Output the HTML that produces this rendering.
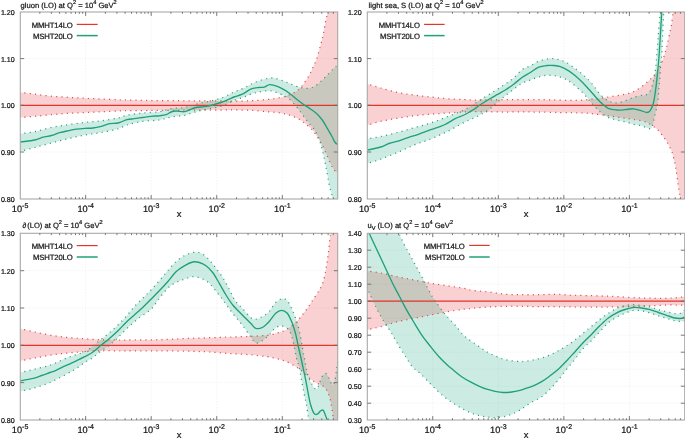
<!DOCTYPE html>
<html><head><meta charset="utf-8"><style>
html,body{margin:0;padding:0;background:#fff;overflow:hidden;}
svg{display:block;will-change:transform;}
text{font-family:"Liberation Sans",sans-serif;fill:#151515;stroke:#151515;stroke-width:0.22px;text-rendering:geometricPrecision;}
</style></head><body>
<svg width="685" height="438" viewBox="0 0 685 438">
<defs><clipPath id="cP1"><rect x="20.3" y="12" width="317.4" height="187"/></clipPath><clipPath id="cP2"><rect x="367.3" y="12" width="317.4" height="187"/></clipPath><clipPath id="cP3"><rect x="20.3" y="233.3" width="317.4" height="186.7"/></clipPath><clipPath id="cP4"><rect x="367.3" y="233.3" width="317.4" height="186.7"/></clipPath></defs>
<g stroke="#eeeeee" stroke-width="0.8" stroke-dasharray="1.2 1.6"><line x1="85.65" y1="12" x2="85.65" y2="199"/><line x1="151.2" y1="12" x2="151.2" y2="199"/><line x1="216.75" y1="12" x2="216.75" y2="199"/><line x1="282.3" y1="12" x2="282.3" y2="199"/><line x1="20.3" y1="152" x2="337.7" y2="152"/><line x1="20.3" y1="105.3" x2="337.7" y2="105.3"/><line x1="20.3" y1="58.6" x2="337.7" y2="58.6"/></g>
<g clip-path="url(#cP1)"><path d="M14,91.8C15.08,91.92 17.05,92.1 20.5,92.5C23.95,92.9 29.57,93.58 34.7,94.2C39.83,94.82 45.75,95.68 51.3,96.2C56.85,96.72 62.43,96.95 68,97.3C73.57,97.65 79.15,98.02 84.7,98.3C90.25,98.58 95.75,98.77 101.3,99C106.85,99.23 113.55,99.53 118,99.7C122.45,99.87 122.67,99.87 128,100C133.33,100.13 142,100.38 150,100.5C158,100.62 167.67,100.63 176,100.7C184.33,100.77 191.67,100.85 200,100.9C208.33,100.95 220.33,100.95 226,101C231.67,101.05 229.88,101.23 234,101.2C238.12,101.17 245.15,101.08 250.7,100.8C256.25,100.52 262.3,100.05 267.3,99.5C272.3,98.95 277.08,98.25 280.7,97.5C284.32,96.75 286.5,95.97 289,95C291.5,94.03 293.75,92.95 295.7,91.7C297.65,90.45 299.03,89.32 300.7,87.5C302.37,85.68 304.18,83.02 305.7,80.8C307.22,78.58 308.62,76.37 309.8,74.2C310.98,72.03 311.63,70.42 312.8,67.8C313.97,65.18 315.48,62.35 316.8,58.5C318.12,54.65 319.63,48.67 320.7,44.7C321.77,40.73 322.43,38.32 323.2,34.7C323.97,31.08 324.62,26.48 325.3,23C325.98,19.52 326.8,16.8 327.3,13.8C327.8,10.8 328.13,6.47 328.3,5L345,0L345,173C343.58,172.78 338.62,172.7 336.5,171.7C334.38,170.7 333.83,169.58 332.3,167C330.77,164.42 328.97,159.82 327.3,156.2C325.63,152.58 323.97,148.5 322.3,145.3C320.63,142.1 318.68,139.22 317.3,137C315.92,134.78 315.1,133.45 314,132C312.9,130.55 312.37,129.88 310.7,128.3C309.03,126.72 306.23,124.17 304,122.5C301.77,120.83 299.8,119.55 297.3,118.3C294.8,117.05 291.77,115.88 289,115C286.23,114.12 284.32,113.55 280.7,113C277.08,112.45 272.3,112.15 267.3,111.7C262.3,111.25 256.25,110.6 250.7,110.3C245.15,110 238.12,109.95 234,109.9C229.88,109.85 231.67,109.97 226,110C220.33,110.03 208.33,110.05 200,110.1C191.67,110.15 184.33,110.23 176,110.3C167.67,110.37 158,110.45 150,110.5C142,110.55 133.33,110.52 128,110.6C122.67,110.68 122.45,110.82 118,111C113.55,111.18 106.85,111.45 101.3,111.7C95.75,111.95 90.25,112.23 84.7,112.5C79.15,112.77 73.57,112.93 68,113.3C62.43,113.67 56.85,114.2 51.3,114.7C45.75,115.2 39.83,115.83 34.7,116.3C29.57,116.77 23.95,117.22 20.5,117.5C17.05,117.78 15.08,117.92 14,118Z" fill="#e41a1c" fill-opacity="0.2"/><path d="M14,134.5C15.08,134.37 17.05,134.17 20.5,133.7C23.95,133.23 29.57,132.73 34.7,131.7C39.83,130.67 45.75,128.67 51.3,127.5C56.85,126.33 62.43,125.53 68,124.7C73.57,123.87 79.15,123.15 84.7,122.5C90.25,121.85 95.75,121.55 101.3,120.8C106.85,120.05 113.72,118.93 118,118C122.28,117.07 122.88,116.03 127,115.2C131.12,114.37 137.32,113.58 142.7,113C148.08,112.42 154.58,112.42 159.3,111.7C164.02,110.98 166.83,109.4 171,108.7C175.17,108 180.13,108.25 184.3,107.5C188.47,106.75 191.83,105.23 196,104.2C200.17,103.17 204.85,102.42 209.3,101.3C213.75,100.18 218.58,99.05 222.7,97.5C226.82,95.95 230.45,93.58 234,92C237.55,90.42 240.38,89.67 244,88C247.62,86.33 251.25,83.67 255.7,82C260.15,80.33 266.53,78.33 270.7,78C274.87,77.67 277.65,79.12 280.7,80C283.75,80.88 286.37,82.25 289,83.3C291.63,84.35 294.55,85.6 296.5,86.3C298.45,87 298.9,87.17 300.7,87.5C302.5,87.83 305.08,88.43 307.3,88.3C309.52,88.17 311.77,87.8 314,86.7C316.23,85.6 318.48,83.65 320.7,81.7C322.92,79.75 325.08,77.23 327.3,75C329.52,72.77 332.27,69.97 334,68.3C335.73,66.63 335.87,66.72 337.7,65C339.53,63.28 343.78,59.17 345,58L345,210L333.5,206C333.3,204.5 333.05,200.72 332.3,197C331.55,193.28 330.1,188.98 329,183.7C327.9,178.42 326.82,170.87 325.7,165.3C324.58,159.73 323.42,154.73 322.3,150.3C321.18,145.87 320.38,142.25 319,138.7C317.62,135.15 315.67,131.57 314,129C312.33,126.43 310.67,125.35 309,123.3C307.33,121.25 305.67,118.92 304,116.7C302.33,114.48 300.67,112.17 299,110C297.33,107.83 295.95,105.78 294,103.7C292.05,101.62 289.52,99.08 287.3,97.5C285.08,95.92 283.47,95.32 280.7,94.2C277.93,93.08 274.32,91.17 270.7,90.8C267.08,90.43 262.33,91.43 259,92C255.67,92.57 253.2,93.37 250.7,94.2C248.2,95.03 246.78,95.95 244,97C241.22,98.05 237.55,99.03 234,100.5C230.45,101.97 226.82,104.43 222.7,105.8C218.58,107.17 213.75,107.72 209.3,108.7C204.85,109.68 200.17,110.6 196,111.7C191.83,112.8 188.47,114.42 184.3,115.3C180.13,116.18 175.17,116.22 171,117C166.83,117.78 164.02,119.28 159.3,120C154.58,120.72 148.08,120.47 142.7,121.3C137.32,122.13 131.12,123.75 127,125C122.88,126.25 122.28,127.55 118,128.8C113.72,130.05 106.85,131.47 101.3,132.5C95.75,133.53 90.25,133.97 84.7,135C79.15,136.03 73.57,137.37 68,138.7C62.43,140.03 56.85,141.53 51.3,143C45.75,144.47 39.83,146.12 34.7,147.5C29.57,148.88 23.95,150.38 20.5,151.3C17.05,152.22 15.08,152.72 14,153Z" fill="#009e73" fill-opacity="0.2"/><line x1="20.3" y1="105.3" x2="337.7" y2="105.3" stroke="#e3352b" stroke-width="1.3"/><path d="M14,91.8C15.08,91.92 17.05,92.1 20.5,92.5C23.95,92.9 29.57,93.58 34.7,94.2C39.83,94.82 45.75,95.68 51.3,96.2C56.85,96.72 62.43,96.95 68,97.3C73.57,97.65 79.15,98.02 84.7,98.3C90.25,98.58 95.75,98.77 101.3,99C106.85,99.23 113.55,99.53 118,99.7C122.45,99.87 122.67,99.87 128,100C133.33,100.13 142,100.38 150,100.5C158,100.62 167.67,100.63 176,100.7C184.33,100.77 191.67,100.85 200,100.9C208.33,100.95 220.33,100.95 226,101C231.67,101.05 229.88,101.23 234,101.2C238.12,101.17 245.15,101.08 250.7,100.8C256.25,100.52 262.3,100.05 267.3,99.5C272.3,98.95 277.08,98.25 280.7,97.5C284.32,96.75 286.5,95.97 289,95C291.5,94.03 293.75,92.95 295.7,91.7C297.65,90.45 299.03,89.32 300.7,87.5C302.37,85.68 304.18,83.02 305.7,80.8C307.22,78.58 308.62,76.37 309.8,74.2C310.98,72.03 311.63,70.42 312.8,67.8C313.97,65.18 315.48,62.35 316.8,58.5C318.12,54.65 319.63,48.67 320.7,44.7C321.77,40.73 322.43,38.32 323.2,34.7C323.97,31.08 324.62,26.48 325.3,23C325.98,19.52 326.8,16.8 327.3,13.8C327.8,10.8 328.13,6.47 328.3,5" fill="none" stroke="#e04848" stroke-width="1.25" stroke-dasharray="1.1 4.2"/><path d="M14,118C15.08,117.92 17.05,117.78 20.5,117.5C23.95,117.22 29.57,116.77 34.7,116.3C39.83,115.83 45.75,115.2 51.3,114.7C56.85,114.2 62.43,113.67 68,113.3C73.57,112.93 79.15,112.77 84.7,112.5C90.25,112.23 95.75,111.95 101.3,111.7C106.85,111.45 113.55,111.18 118,111C122.45,110.82 122.67,110.68 128,110.6C133.33,110.52 142,110.55 150,110.5C158,110.45 167.67,110.37 176,110.3C184.33,110.23 191.67,110.15 200,110.1C208.33,110.05 220.33,110.03 226,110C231.67,109.97 229.88,109.85 234,109.9C238.12,109.95 245.15,110 250.7,110.3C256.25,110.6 262.3,111.25 267.3,111.7C272.3,112.15 277.08,112.45 280.7,113C284.32,113.55 286.23,114.12 289,115C291.77,115.88 294.8,117.05 297.3,118.3C299.8,119.55 301.77,120.83 304,122.5C306.23,124.17 309.03,126.72 310.7,128.3C312.37,129.88 312.9,130.55 314,132C315.1,133.45 315.92,134.78 317.3,137C318.68,139.22 320.63,142.1 322.3,145.3C323.97,148.5 325.63,152.58 327.3,156.2C328.97,159.82 330.77,164.42 332.3,167C333.83,169.58 334.38,170.7 336.5,171.7C338.62,172.7 343.58,172.78 345,173" fill="none" stroke="#e04848" stroke-width="1.25" stroke-dasharray="1.1 4.2"/><path d="M14,134.5C15.08,134.37 17.05,134.17 20.5,133.7C23.95,133.23 29.57,132.73 34.7,131.7C39.83,130.67 45.75,128.67 51.3,127.5C56.85,126.33 62.43,125.53 68,124.7C73.57,123.87 79.15,123.15 84.7,122.5C90.25,121.85 95.75,121.55 101.3,120.8C106.85,120.05 113.72,118.93 118,118C122.28,117.07 122.88,116.03 127,115.2C131.12,114.37 137.32,113.58 142.7,113C148.08,112.42 154.58,112.42 159.3,111.7C164.02,110.98 166.83,109.4 171,108.7C175.17,108 180.13,108.25 184.3,107.5C188.47,106.75 191.83,105.23 196,104.2C200.17,103.17 204.85,102.42 209.3,101.3C213.75,100.18 218.58,99.05 222.7,97.5C226.82,95.95 230.45,93.58 234,92C237.55,90.42 240.38,89.67 244,88C247.62,86.33 251.25,83.67 255.7,82C260.15,80.33 266.53,78.33 270.7,78C274.87,77.67 277.65,79.12 280.7,80C283.75,80.88 286.37,82.25 289,83.3C291.63,84.35 294.55,85.6 296.5,86.3C298.45,87 298.9,87.17 300.7,87.5C302.5,87.83 305.08,88.43 307.3,88.3C309.52,88.17 311.77,87.8 314,86.7C316.23,85.6 318.48,83.65 320.7,81.7C322.92,79.75 325.08,77.23 327.3,75C329.52,72.77 332.27,69.97 334,68.3C335.73,66.63 335.87,66.72 337.7,65C339.53,63.28 343.78,59.17 345,58" fill="none" stroke="#2a9f7c" stroke-width="1.25" stroke-dasharray="1.1 4.2"/><path d="M14,153C15.08,152.72 17.05,152.22 20.5,151.3C23.95,150.38 29.57,148.88 34.7,147.5C39.83,146.12 45.75,144.47 51.3,143C56.85,141.53 62.43,140.03 68,138.7C73.57,137.37 79.15,136.03 84.7,135C90.25,133.97 95.75,133.53 101.3,132.5C106.85,131.47 113.72,130.05 118,128.8C122.28,127.55 122.88,126.25 127,125C131.12,123.75 137.32,122.13 142.7,121.3C148.08,120.47 154.58,120.72 159.3,120C164.02,119.28 166.83,117.78 171,117C175.17,116.22 180.13,116.18 184.3,115.3C188.47,114.42 191.83,112.8 196,111.7C200.17,110.6 204.85,109.68 209.3,108.7C213.75,107.72 218.58,107.17 222.7,105.8C226.82,104.43 230.45,101.97 234,100.5C237.55,99.03 241.22,98.05 244,97C246.78,95.95 248.2,95.03 250.7,94.2C253.2,93.37 255.67,92.57 259,92C262.33,91.43 267.08,90.43 270.7,90.8C274.32,91.17 277.93,93.08 280.7,94.2C283.47,95.32 285.08,95.92 287.3,97.5C289.52,99.08 292.05,101.62 294,103.7C295.95,105.78 297.33,107.83 299,110C300.67,112.17 302.33,114.48 304,116.7C305.67,118.92 307.33,121.25 309,123.3C310.67,125.35 312.33,126.43 314,129C315.67,131.57 317.62,135.15 319,138.7C320.38,142.25 321.18,145.87 322.3,150.3C323.42,154.73 324.58,159.73 325.7,165.3C326.82,170.87 327.9,178.42 329,183.7C330.1,188.98 331.55,193.28 332.3,197C333.05,200.72 333.3,204.5 333.5,206" fill="none" stroke="#2a9f7c" stroke-width="1.25" stroke-dasharray="1.1 4.2"/><path d="M14,143C15.08,142.83 17.05,142.5 20.5,142C23.95,141.5 30.95,140.8 34.7,140C38.45,139.2 40.23,137.95 43,137.2C45.77,136.45 48.52,136.25 51.3,135.5C54.08,134.75 56.92,133.48 59.7,132.7C62.48,131.92 65.23,131.38 68,130.8C70.77,130.22 73.52,129.62 76.3,129.2C79.08,128.78 81.92,128.5 84.7,128.3C87.48,128.1 90.23,128.33 93,128C95.77,127.67 98.52,127.02 101.3,126.3C104.08,125.58 106.92,124.25 109.7,123.7C112.48,123.15 115.12,123.67 118,123C120.88,122.33 124.28,120.42 127,119.7C129.72,118.98 131.68,119.07 134.3,118.7C136.92,118.33 139.92,117.9 142.7,117.5C145.48,117.1 148.23,116.58 151,116.3C153.77,116.02 156.8,116.07 159.3,115.8C161.8,115.53 164.05,115.33 166,114.7C167.95,114.07 169.33,112.62 171,112C172.67,111.38 173.78,111.05 176,111C178.22,110.95 182.08,111.87 184.3,111.7C186.52,111.53 187.35,110.7 189.3,110C191.25,109.3 193.5,108.05 196,107.5C198.5,106.95 201.52,107.12 204.3,106.7C207.08,106.28 209.92,105.7 212.7,105C215.48,104.3 218.23,103.47 221,102.5C223.77,101.53 227.13,100.12 229.3,99.2C231.47,98.28 231.83,97.83 234,97C236.17,96.17 239.52,95.5 242.3,94.2C245.08,92.9 247.92,90.32 250.7,89.2C253.48,88.08 256.78,87.83 259,87.5C261.22,87.17 262.2,87.67 264,87.2C265.8,86.73 267.58,84.85 269.8,84.7C272.02,84.55 274.93,85.47 277.3,86.3C279.67,87.13 281.77,88.38 284,89.7C286.23,91.02 288.48,92.53 290.7,94.2C292.92,95.87 295.08,97.95 297.3,99.7C299.52,101.45 301.77,103.12 304,104.7C306.23,106.28 308.48,107.62 310.7,109.2C312.92,110.78 315.37,112.4 317.3,114.2C319.23,116 320.63,117.65 322.3,120C323.97,122.35 325.63,125.47 327.3,128.3C328.97,131.13 331.05,134.72 332.3,137C333.55,139.28 333.9,140.75 334.8,142C335.7,143.25 336,143.5 337.7,144.5C339.4,145.5 343.78,147.42 345,148" fill="none" stroke="#1fa07a" stroke-width="1.35" stroke-linejoin="round"/></g>
<rect x="20.3" y="12" width="317.4" height="187" fill="none" stroke="#a8a8a8" stroke-width="1.1"/><path d="M39.83,199v-1.8M39.83,12v1.8M51.38,199v-1.8M51.38,12v1.8M59.57,199v-1.8M59.57,12v1.8M65.92,199v-1.8M65.92,12v1.8M71.11,199v-1.8M71.11,12v1.8M75.5,199v-1.8M75.5,12v1.8M79.3,199v-1.8M79.3,12v1.8M82.65,199v-1.8M82.65,12v1.8M85.65,199v-3.9M85.65,12v3.9M105.38,199v-1.8M105.38,12v1.8M116.93,199v-1.8M116.93,12v1.8M125.12,199v-1.8M125.12,12v1.8M131.47,199v-1.8M131.47,12v1.8M136.66,199v-1.8M136.66,12v1.8M141.05,199v-1.8M141.05,12v1.8M144.85,199v-1.8M144.85,12v1.8M148.2,199v-1.8M148.2,12v1.8M151.2,199v-3.9M151.2,12v3.9M170.93,199v-1.8M170.93,12v1.8M182.48,199v-1.8M182.48,12v1.8M190.67,199v-1.8M190.67,12v1.8M197.02,199v-1.8M197.02,12v1.8M202.21,199v-1.8M202.21,12v1.8M206.6,199v-1.8M206.6,12v1.8M210.4,199v-1.8M210.4,12v1.8M213.75,199v-1.8M213.75,12v1.8M216.75,199v-3.9M216.75,12v3.9M236.48,199v-1.8M236.48,12v1.8M248.03,199v-1.8M248.03,12v1.8M256.22,199v-1.8M256.22,12v1.8M262.57,199v-1.8M262.57,12v1.8M267.76,199v-1.8M267.76,12v1.8M272.15,199v-1.8M272.15,12v1.8M275.95,199v-1.8M275.95,12v1.8M279.3,199v-1.8M279.3,12v1.8M282.3,199v-3.9M282.3,12v3.9M302.03,199v-1.8M302.03,12v1.8M313.58,199v-1.8M313.58,12v1.8M321.77,199v-1.8M321.77,12v1.8M328.12,199v-1.8M328.12,12v1.8M333.31,199v-1.8M333.31,12v1.8M20.3,152h3.9M337.7,152h-3.9M20.3,105.3h3.9M337.7,105.3h-3.9M20.3,58.6h3.9M337.7,58.6h-3.9" stroke="#6a6a6a" stroke-width="0.9" fill="none"/>
<g font-size="7.1" text-anchor="end"><text x="14.7" y="201.6">0.80</text><text x="14.7" y="154.9">0.90</text><text x="14.7" y="108.2">1.00</text><text x="14.7" y="61.5">1.10</text><text x="14.7" y="14.8">1.20</text></g>
<g font-size="9.2" text-anchor="middle"><text x="20.1" y="212">10<tspan font-size="7" dy="-3.6">-5</tspan></text><text x="85.65" y="212">10<tspan font-size="7" dy="-3.6">-4</tspan></text><text x="151.2" y="212">10<tspan font-size="7" dy="-3.6">-3</tspan></text><text x="216.75" y="212">10<tspan font-size="7" dy="-3.6">-2</tspan></text><text x="282.3" y="212">10<tspan font-size="7" dy="-3.6">-1</tspan></text></g>
<text x="179" y="216.9" font-size="9.4" text-anchor="middle">x</text>
<g font-size="7.7" letter-spacing="-0.1" text-anchor="end"><text x="72.7" y="27.5">MMHT14LO</text><text x="72.7" y="38.7">MSHT20LO</text></g><line x1="76.7" y1="24.4" x2="97.7" y2="24.4" stroke="#e3352b" stroke-width="1.2"/><line x1="76.7" y1="35.6" x2="97.7" y2="35.6" stroke="#1fa07a" stroke-width="1.5"/>
<text x="20.6" y="8.1" font-size="7.6">gluon (LO) at Q<tspan font-size="5.6" dy="-3.7">2</tspan><tspan dy="3.7"> = 10</tspan><tspan font-size="5.6" dy="-3.7">4</tspan><tspan dy="3.7"> GeV</tspan><tspan font-size="5.6" dy="-3.7">2</tspan></text>
<g stroke="#eeeeee" stroke-width="0.8" stroke-dasharray="1.2 1.6"><line x1="432.75" y1="12" x2="432.75" y2="199"/><line x1="498.3" y1="12" x2="498.3" y2="199"/><line x1="563.85" y1="12" x2="563.85" y2="199"/><line x1="629.4" y1="12" x2="629.4" y2="199"/><line x1="367.3" y1="152" x2="684.7" y2="152"/><line x1="367.3" y1="105.3" x2="684.7" y2="105.3"/><line x1="367.3" y1="58.6" x2="684.7" y2="58.6"/></g>
<g clip-path="url(#cP2)"><path d="M360,83C361.28,83.2 364.25,83.37 367.7,84.2C371.15,85.03 375.77,86.62 380.7,88C385.63,89.38 391.75,91.33 397.3,92.5C402.85,93.67 408.43,94.25 414,95C419.57,95.75 425.15,96.38 430.7,97C436.25,97.62 441.75,98.28 447.3,98.7C452.85,99.12 459.55,99.28 464,99.5C468.45,99.72 469.67,99.95 474,100C478.33,100.05 484,99.85 490,99.8C496,99.75 503.33,99.72 510,99.7C516.67,99.68 523.33,99.68 530,99.7C536.67,99.72 542.5,99.67 550,99.8C557.5,99.93 568.05,100.6 575,100.5C581.95,100.4 586.15,99.78 591.7,99.2C597.25,98.62 602.75,97.83 608.3,97C613.85,96.17 620.83,95.08 625,94.2C629.17,93.32 630.52,92.95 633.3,91.7C636.08,90.45 639.2,88.48 641.7,86.7C644.2,84.92 646.52,82.55 648.3,81C650.08,79.45 651.18,78.7 652.4,77.4C653.62,76.1 654.62,74.55 655.6,73.2C656.58,71.85 657.35,70.92 658.3,69.3C659.25,67.68 660.27,65.93 661.3,63.5C662.33,61.07 663.52,57.83 664.5,54.7C665.48,51.57 666.32,48.32 667.2,44.7C668.08,41.08 669.1,36.33 669.8,33C670.5,29.67 670.87,28.03 671.4,24.7C671.93,21.37 672.6,16.28 673,13C673.4,9.72 673.67,6.33 673.8,5L690,0L690,210L680.5,206C680.42,204.5 680.22,199.47 680,197C679.78,194.53 679.48,193 679.2,191.2C678.92,189.4 678.58,188.02 678.3,186.2C678.02,184.38 677.83,182.8 677.5,180.3C677.17,177.8 676.67,173.7 676.3,171.2C675.93,168.7 675.65,167.12 675.3,165.3C674.95,163.48 674.58,161.97 674.2,160.3C673.82,158.63 673.48,156.97 673,155.3C672.52,153.63 672,151.97 671.3,150.3C670.6,148.63 669.63,146.88 668.8,145.3C667.97,143.72 667.27,142.32 666.3,140.8C665.33,139.28 664.1,137.67 663,136.2C661.9,134.73 660.9,133.32 659.7,132C658.5,130.68 657.42,129.6 655.8,128.3C654.18,127 652.35,125.45 650,124.2C647.65,122.95 645.87,121.78 641.7,120.8C637.53,119.82 630.57,119.13 625,118.3C619.43,117.47 613.85,116.57 608.3,115.8C602.75,115.03 596.08,114.17 591.7,113.7C587.32,113.23 587.28,113.2 582,113C576.72,112.8 568.67,112.67 560,112.5C551.33,112.33 540,112.08 530,112C520,111.92 509.33,112.05 500,112C490.67,111.95 480,111.7 474,111.7C468,111.7 468.45,111.78 464,112C459.55,112.22 452.85,112.63 447.3,113C441.75,113.37 436.25,113.73 430.7,114.2C425.15,114.67 419.57,115.12 414,115.8C408.43,116.48 402.85,117.38 397.3,118.3C391.75,119.22 385.63,120.18 380.7,121.3C375.77,122.42 371.15,124.22 367.7,125C364.25,125.78 361.28,125.83 360,126Z" fill="#e41a1c" fill-opacity="0.2"/><path d="M360,140C361.28,139.8 364.25,139.38 367.7,138.8C371.15,138.22 375.77,137.55 380.7,136.5C385.63,135.45 391.75,133.95 397.3,132.5C402.85,131.05 408.43,129.38 414,127.8C419.57,126.22 425.15,124.85 430.7,123C436.25,121.15 441.75,118.87 447.3,116.7C452.85,114.53 459.72,112.03 464,110C468.28,107.97 470.28,106.17 473,104.5C475.72,102.83 477.68,101.63 480.3,100C482.92,98.37 485.92,96.45 488.7,94.7C491.48,92.95 494.23,91.28 497,89.5C499.77,87.72 502.52,85.92 505.3,84C508.08,82.08 510.92,80.38 513.7,78C516.48,75.62 519.23,71.73 522,69.7C524.77,67.67 527.52,67.2 530.3,65.8C533.08,64.4 535.63,62.48 538.7,61.3C541.77,60.12 545.65,59.05 548.7,58.7C551.75,58.35 554.23,58.65 557,59.2C559.77,59.75 562.52,60.62 565.3,62C568.08,63.38 570.7,65.33 573.7,67.5C576.7,69.67 580.3,72.37 583.3,75C586.3,77.63 588.92,80.1 591.7,83.3C594.48,86.5 597.23,91.28 600,94.2C602.77,97.12 605.52,99.33 608.3,100.8C611.08,102.27 613.92,103 616.7,103C619.48,103 622.23,101.72 625,100.8C627.77,99.88 630.52,98.42 633.3,97.5C636.08,96.58 639.75,95.68 641.7,95.3C643.65,94.92 643.83,95.57 645,95.2C646.17,94.83 647.62,94.25 648.7,93.1C649.78,91.95 650.82,89.93 651.5,88.3C652.18,86.67 652.35,85.05 652.8,83.3C653.25,81.55 653.78,79.85 654.2,77.8C654.62,75.75 654.97,73.58 655.3,71C655.63,68.42 655.88,65.8 656.2,62.3C656.52,58.8 656.87,54.38 657.2,50C657.53,45.62 657.83,40.78 658.2,36C658.57,31.22 659.08,25.3 659.4,21.3C659.72,17.3 659.92,14.72 660.1,12C660.28,9.28 660.43,6.17 660.5,5L664,5C663.95,6.17 663.8,9.83 663.7,12C663.6,14.17 663.6,13.67 663.4,18C663.2,22.33 662.82,31.33 662.5,38C662.18,44.67 661.82,53.17 661.5,58C661.18,62.83 660.9,63.33 660.6,67C660.3,70.67 660,76.17 659.7,80C659.4,83.83 659.12,86.38 658.8,90C658.48,93.62 658.43,97.53 657.8,101.7C657.17,105.87 656.02,110.7 655,115C653.98,119.3 652.82,125.28 651.7,127.5C650.58,129.72 649.97,128.58 648.3,128.3C646.63,128.02 644.2,126.48 641.7,125.8C639.2,125.12 636.08,124.88 633.3,124.2C630.52,123.52 627.77,122.4 625,121.7C622.23,121 619.48,120.7 616.7,120C613.92,119.3 611.08,118.88 608.3,117.5C605.52,116.12 602.77,114.07 600,111.7C597.23,109.33 594.48,106.37 591.7,103.3C588.92,100.23 586.58,96.63 583.3,93.3C580.02,89.97 575.27,85.8 572,83.3C568.73,80.8 566.48,79.55 563.7,78.3C560.92,77.05 558.08,76.3 555.3,75.8C552.52,75.3 549.77,75.1 547,75.3C544.23,75.5 541.48,76.22 538.7,77C535.92,77.78 533.08,78.95 530.3,80C527.52,81.05 524.77,81.77 522,83.3C519.23,84.83 516.48,87.12 513.7,89.2C510.92,91.28 508.08,93.58 505.3,95.8C502.52,98.02 499.77,100.17 497,102.5C494.23,104.83 491.48,107.75 488.7,109.8C485.92,111.85 483.08,113.3 480.3,114.8C477.52,116.3 474.72,117.52 472,118.8C469.28,120.08 468.12,120.38 464,122.5C459.88,124.62 452.85,128.75 447.3,131.5C441.75,134.25 436.25,136.75 430.7,139C425.15,141.25 419.57,142.75 414,145C408.43,147.25 402.85,150.13 397.3,152.5C391.75,154.87 385.63,157.4 380.7,159.2C375.77,161 371.15,162.25 367.7,163.3C364.25,164.35 361.28,165.13 360,165.5Z" fill="#009e73" fill-opacity="0.2"/><line x1="367.3" y1="105.3" x2="684.7" y2="105.3" stroke="#e3352b" stroke-width="1.3"/><path d="M360,83C361.28,83.2 364.25,83.37 367.7,84.2C371.15,85.03 375.77,86.62 380.7,88C385.63,89.38 391.75,91.33 397.3,92.5C402.85,93.67 408.43,94.25 414,95C419.57,95.75 425.15,96.38 430.7,97C436.25,97.62 441.75,98.28 447.3,98.7C452.85,99.12 459.55,99.28 464,99.5C468.45,99.72 469.67,99.95 474,100C478.33,100.05 484,99.85 490,99.8C496,99.75 503.33,99.72 510,99.7C516.67,99.68 523.33,99.68 530,99.7C536.67,99.72 542.5,99.67 550,99.8C557.5,99.93 568.05,100.6 575,100.5C581.95,100.4 586.15,99.78 591.7,99.2C597.25,98.62 602.75,97.83 608.3,97C613.85,96.17 620.83,95.08 625,94.2C629.17,93.32 630.52,92.95 633.3,91.7C636.08,90.45 639.2,88.48 641.7,86.7C644.2,84.92 646.52,82.55 648.3,81C650.08,79.45 651.18,78.7 652.4,77.4C653.62,76.1 654.62,74.55 655.6,73.2C656.58,71.85 657.35,70.92 658.3,69.3C659.25,67.68 660.27,65.93 661.3,63.5C662.33,61.07 663.52,57.83 664.5,54.7C665.48,51.57 666.32,48.32 667.2,44.7C668.08,41.08 669.1,36.33 669.8,33C670.5,29.67 670.87,28.03 671.4,24.7C671.93,21.37 672.6,16.28 673,13C673.4,9.72 673.67,6.33 673.8,5" fill="none" stroke="#e04848" stroke-width="1.25" stroke-dasharray="1.1 4.2"/><path d="M360,126C361.28,125.83 364.25,125.78 367.7,125C371.15,124.22 375.77,122.42 380.7,121.3C385.63,120.18 391.75,119.22 397.3,118.3C402.85,117.38 408.43,116.48 414,115.8C419.57,115.12 425.15,114.67 430.7,114.2C436.25,113.73 441.75,113.37 447.3,113C452.85,112.63 459.55,112.22 464,112C468.45,111.78 468,111.7 474,111.7C480,111.7 490.67,111.95 500,112C509.33,112.05 520,111.92 530,112C540,112.08 551.33,112.33 560,112.5C568.67,112.67 576.72,112.8 582,113C587.28,113.2 587.32,113.23 591.7,113.7C596.08,114.17 602.75,115.03 608.3,115.8C613.85,116.57 619.43,117.47 625,118.3C630.57,119.13 637.53,119.82 641.7,120.8C645.87,121.78 647.65,122.95 650,124.2C652.35,125.45 654.18,127 655.8,128.3C657.42,129.6 658.5,130.68 659.7,132C660.9,133.32 661.9,134.73 663,136.2C664.1,137.67 665.33,139.28 666.3,140.8C667.27,142.32 667.97,143.72 668.8,145.3C669.63,146.88 670.6,148.63 671.3,150.3C672,151.97 672.52,153.63 673,155.3C673.48,156.97 673.82,158.63 674.2,160.3C674.58,161.97 674.95,163.48 675.3,165.3C675.65,167.12 675.93,168.7 676.3,171.2C676.67,173.7 677.17,177.8 677.5,180.3C677.83,182.8 678.02,184.38 678.3,186.2C678.58,188.02 678.92,189.4 679.2,191.2C679.48,193 679.78,194.53 680,197C680.22,199.47 680.42,204.5 680.5,206" fill="none" stroke="#e04848" stroke-width="1.25" stroke-dasharray="1.1 4.2"/><path d="M360,140C361.28,139.8 364.25,139.38 367.7,138.8C371.15,138.22 375.77,137.55 380.7,136.5C385.63,135.45 391.75,133.95 397.3,132.5C402.85,131.05 408.43,129.38 414,127.8C419.57,126.22 425.15,124.85 430.7,123C436.25,121.15 441.75,118.87 447.3,116.7C452.85,114.53 459.72,112.03 464,110C468.28,107.97 470.28,106.17 473,104.5C475.72,102.83 477.68,101.63 480.3,100C482.92,98.37 485.92,96.45 488.7,94.7C491.48,92.95 494.23,91.28 497,89.5C499.77,87.72 502.52,85.92 505.3,84C508.08,82.08 510.92,80.38 513.7,78C516.48,75.62 519.23,71.73 522,69.7C524.77,67.67 527.52,67.2 530.3,65.8C533.08,64.4 535.63,62.48 538.7,61.3C541.77,60.12 545.65,59.05 548.7,58.7C551.75,58.35 554.23,58.65 557,59.2C559.77,59.75 562.52,60.62 565.3,62C568.08,63.38 570.7,65.33 573.7,67.5C576.7,69.67 580.3,72.37 583.3,75C586.3,77.63 588.92,80.1 591.7,83.3C594.48,86.5 597.23,91.28 600,94.2C602.77,97.12 605.52,99.33 608.3,100.8C611.08,102.27 613.92,103 616.7,103C619.48,103 622.23,101.72 625,100.8C627.77,99.88 630.52,98.42 633.3,97.5C636.08,96.58 639.75,95.68 641.7,95.3C643.65,94.92 643.83,95.57 645,95.2C646.17,94.83 647.62,94.25 648.7,93.1C649.78,91.95 650.82,89.93 651.5,88.3C652.18,86.67 652.35,85.05 652.8,83.3C653.25,81.55 653.78,79.85 654.2,77.8C654.62,75.75 654.97,73.58 655.3,71C655.63,68.42 655.88,65.8 656.2,62.3C656.52,58.8 656.87,54.38 657.2,50C657.53,45.62 657.83,40.78 658.2,36C658.57,31.22 659.08,25.3 659.4,21.3C659.72,17.3 659.92,14.72 660.1,12C660.28,9.28 660.43,6.17 660.5,5" fill="none" stroke="#2a9f7c" stroke-width="1.25" stroke-dasharray="1.1 4.2"/><path d="M360,165.5C361.28,165.13 364.25,164.35 367.7,163.3C371.15,162.25 375.77,161 380.7,159.2C385.63,157.4 391.75,154.87 397.3,152.5C402.85,150.13 408.43,147.25 414,145C419.57,142.75 425.15,141.25 430.7,139C436.25,136.75 441.75,134.25 447.3,131.5C452.85,128.75 459.88,124.62 464,122.5C468.12,120.38 469.28,120.08 472,118.8C474.72,117.52 477.52,116.3 480.3,114.8C483.08,113.3 485.92,111.85 488.7,109.8C491.48,107.75 494.23,104.83 497,102.5C499.77,100.17 502.52,98.02 505.3,95.8C508.08,93.58 510.92,91.28 513.7,89.2C516.48,87.12 519.23,84.83 522,83.3C524.77,81.77 527.52,81.05 530.3,80C533.08,78.95 535.92,77.78 538.7,77C541.48,76.22 544.23,75.5 547,75.3C549.77,75.1 552.52,75.3 555.3,75.8C558.08,76.3 560.92,77.05 563.7,78.3C566.48,79.55 568.73,80.8 572,83.3C575.27,85.8 580.02,89.97 583.3,93.3C586.58,96.63 588.92,100.23 591.7,103.3C594.48,106.37 597.23,109.33 600,111.7C602.77,114.07 605.52,116.12 608.3,117.5C611.08,118.88 613.92,119.3 616.7,120C619.48,120.7 622.23,121 625,121.7C627.77,122.4 630.52,123.52 633.3,124.2C636.08,124.88 639.2,125.12 641.7,125.8C644.2,126.48 646.63,128.02 648.3,128.3C649.97,128.58 650.58,129.72 651.7,127.5C652.82,125.28 653.98,119.3 655,115C656.02,110.7 657.17,105.87 657.8,101.7C658.43,97.53 658.48,93.62 658.8,90C659.12,86.38 659.4,83.83 659.7,80C660,76.17 660.3,70.67 660.6,67C660.9,63.33 661.18,62.83 661.5,58C661.82,53.17 662.18,44.67 662.5,38C662.82,31.33 663.2,22.33 663.4,18C663.6,13.67 663.6,14.17 663.7,12C663.8,9.83 663.95,6.17 664,5" fill="none" stroke="#2a9f7c" stroke-width="1.25" stroke-dasharray="1.1 4.2"/><path d="M360,151.5C361.28,151.25 364.25,150.75 367.7,150C371.15,149.25 377.15,148.08 380.7,147C384.25,145.92 385.95,144.53 389,143.5C392.05,142.47 395.38,141.93 399,140.8C402.62,139.67 407.37,137.8 410.7,136.7C414.03,135.6 415.67,135.37 419,134.2C422.33,133.03 426.53,131.23 430.7,129.7C434.87,128.17 439.83,126.9 444,125C448.17,123.1 452.37,119.97 455.7,118.3C459.03,116.63 460.95,116.52 464,115C467.05,113.48 471.28,110.9 474,109.2C476.72,107.5 477.85,106.42 480.3,104.8C482.75,103.18 485.92,101.18 488.7,99.5C491.48,97.82 494.23,96.28 497,94.7C499.77,93.12 502.52,91.75 505.3,90C508.08,88.25 510.92,86.28 513.7,84.2C516.48,82.12 519.23,79.45 522,77.5C524.77,75.55 527.52,74.22 530.3,72.5C533.08,70.78 535.92,68.37 538.7,67.2C541.48,66.03 544.5,65.78 547,65.5C549.5,65.22 551.48,65.3 553.7,65.5C555.92,65.7 557.8,65.82 560.3,66.7C562.8,67.58 566.2,69.28 568.7,70.8C571.2,72.32 572.87,73.72 575.3,75.8C577.73,77.88 580.57,80.52 583.3,83.3C586.03,86.08 588.92,89.43 591.7,92.5C594.48,95.57 597.23,99.07 600,101.7C602.77,104.33 605.52,106.92 608.3,108.3C611.08,109.68 613.92,109.77 616.7,110C619.48,110.23 622.23,109.9 625,109.7C627.77,109.5 630.52,108.62 633.3,108.8C636.08,108.98 639.47,110.18 641.7,110.8C643.93,111.42 645.32,112.5 646.7,112.5C648.08,112.5 648.9,112.3 650,110.8C651.1,109.3 652.37,106.97 653.3,103.5C654.23,100.03 654.98,94.25 655.6,90C656.22,85.75 656.45,83.33 657,78C657.55,72.67 658.32,65.5 658.9,58C659.48,50.5 660.03,40.67 660.5,33C660.97,25.33 661.45,16.67 661.7,12C661.95,7.33 661.95,6.17 662,5" fill="none" stroke="#1fa07a" stroke-width="1.35" stroke-linejoin="round"/></g>
<rect x="367.3" y="12" width="317.4" height="187" fill="none" stroke="#a8a8a8" stroke-width="1.1"/><path d="M386.93,199v-1.8M386.93,12v1.8M398.48,199v-1.8M398.48,12v1.8M406.67,199v-1.8M406.67,12v1.8M413.02,199v-1.8M413.02,12v1.8M418.21,199v-1.8M418.21,12v1.8M422.6,199v-1.8M422.6,12v1.8M426.4,199v-1.8M426.4,12v1.8M429.75,199v-1.8M429.75,12v1.8M432.75,199v-3.9M432.75,12v3.9M452.48,199v-1.8M452.48,12v1.8M464.03,199v-1.8M464.03,12v1.8M472.22,199v-1.8M472.22,12v1.8M478.57,199v-1.8M478.57,12v1.8M483.76,199v-1.8M483.76,12v1.8M488.15,199v-1.8M488.15,12v1.8M491.95,199v-1.8M491.95,12v1.8M495.3,199v-1.8M495.3,12v1.8M498.3,199v-3.9M498.3,12v3.9M518.03,199v-1.8M518.03,12v1.8M529.58,199v-1.8M529.58,12v1.8M537.77,199v-1.8M537.77,12v1.8M544.12,199v-1.8M544.12,12v1.8M549.31,199v-1.8M549.31,12v1.8M553.7,199v-1.8M553.7,12v1.8M557.5,199v-1.8M557.5,12v1.8M560.85,199v-1.8M560.85,12v1.8M563.85,199v-3.9M563.85,12v3.9M583.58,199v-1.8M583.58,12v1.8M595.13,199v-1.8M595.13,12v1.8M603.32,199v-1.8M603.32,12v1.8M609.67,199v-1.8M609.67,12v1.8M614.86,199v-1.8M614.86,12v1.8M619.25,199v-1.8M619.25,12v1.8M623.05,199v-1.8M623.05,12v1.8M626.4,199v-1.8M626.4,12v1.8M629.4,199v-3.9M629.4,12v3.9M649.13,199v-1.8M649.13,12v1.8M660.68,199v-1.8M660.68,12v1.8M668.87,199v-1.8M668.87,12v1.8M675.22,199v-1.8M675.22,12v1.8M680.41,199v-1.8M680.41,12v1.8M367.3,152h3.9M684.7,152h-3.9M367.3,105.3h3.9M684.7,105.3h-3.9M367.3,58.6h3.9M684.7,58.6h-3.9" stroke="#6a6a6a" stroke-width="0.9" fill="none"/>
<g font-size="7.1" text-anchor="end"><text x="361.7" y="201.6">0.80</text><text x="361.7" y="154.9">0.90</text><text x="361.7" y="108.2">1.00</text><text x="361.7" y="61.5">1.10</text><text x="361.7" y="14.8">1.20</text></g>
<g font-size="9.2" text-anchor="middle"><text x="367.2" y="212">10<tspan font-size="7" dy="-3.6">-5</tspan></text><text x="432.75" y="212">10<tspan font-size="7" dy="-3.6">-4</tspan></text><text x="498.3" y="212">10<tspan font-size="7" dy="-3.6">-3</tspan></text><text x="563.85" y="212">10<tspan font-size="7" dy="-3.6">-2</tspan></text><text x="629.4" y="212">10<tspan font-size="7" dy="-3.6">-1</tspan></text></g>
<text x="526" y="216.9" font-size="9.4" text-anchor="middle">x</text>
<g font-size="7.7" letter-spacing="-0.1" text-anchor="end"><text x="419.8" y="27.5">MMHT14LO</text><text x="419.8" y="38.7">MSHT20LO</text></g><line x1="424.1" y1="24.4" x2="444.6" y2="24.4" stroke="#e3352b" stroke-width="1.2"/><line x1="424.1" y1="35.6" x2="444.6" y2="35.6" stroke="#1fa07a" stroke-width="1.5"/>
<text x="368.6" y="8.1" font-size="7.6">light sea, S (LO) at Q<tspan font-size="5.6" dy="-3.7">2</tspan><tspan dy="3.7"> = 10</tspan><tspan font-size="5.6" dy="-3.7">4</tspan><tspan dy="3.7"> GeV</tspan><tspan font-size="5.6" dy="-3.7">2</tspan></text>
<g stroke="#eeeeee" stroke-width="0.8" stroke-dasharray="1.2 1.6"><line x1="85.65" y1="233.3" x2="85.65" y2="420"/><line x1="151.2" y1="233.3" x2="151.2" y2="420"/><line x1="216.75" y1="233.3" x2="216.75" y2="420"/><line x1="282.3" y1="233.3" x2="282.3" y2="420"/><line x1="20.3" y1="382.6" x2="337.7" y2="382.6"/><line x1="20.3" y1="345.3" x2="337.7" y2="345.3"/><line x1="20.3" y1="308" x2="337.7" y2="308"/><line x1="20.3" y1="270.7" x2="337.7" y2="270.7"/></g>
<g clip-path="url(#cP3)"><path d="M14,327.5C15.05,327.7 16.85,327.95 20.3,328.7C23.75,329.45 29.53,330.9 34.7,332C39.87,333.1 45.75,334.38 51.3,335.3C56.85,336.22 62.43,336.92 68,337.5C73.57,338.08 79.15,338.43 84.7,338.8C90.25,339.17 95.75,339.5 101.3,339.7C106.85,339.9 113.88,339.95 118,340C122.12,340.05 119.12,340.05 126,340C132.88,339.95 148.18,339.98 159.3,339.7C170.42,339.42 181.58,338.72 192.7,338.3C203.82,337.88 219.12,337.42 226,337.2C232.88,336.98 229.88,337.15 234,337C238.12,336.85 245.15,336.58 250.7,336.3C256.25,336.02 262.87,335.85 267.3,335.3C271.73,334.75 274.52,333.75 277.3,333C280.08,332.25 281.77,331.85 284,330.8C286.23,329.75 288.48,328.37 290.7,326.7C292.92,325.03 295.37,322.75 297.3,320.8C299.23,318.85 300.63,317.08 302.3,315C303.97,312.92 305.63,310.67 307.3,308.3C308.97,305.93 310.63,303.3 312.3,300.8C313.97,298.3 316.02,295.27 317.3,293.3C318.58,291.33 319.02,290.93 320,289C320.98,287.07 322.25,284.73 323.2,281.7C324.15,278.67 325.02,274.28 325.7,270.8C326.38,267.32 326.8,264.27 327.3,260.8C327.8,257.33 328.28,253.6 328.7,250C329.12,246.4 329.47,241.98 329.8,239.2C330.13,236.42 330.47,235.67 330.7,233.3C330.93,230.93 331.12,226.38 331.2,225L345,225L345,430L333.5,428C333.45,426.53 333.4,421.92 333.2,419.2C333,416.48 332.72,414.62 332.3,411.7C331.88,408.78 331.38,404.77 330.7,401.7C330.02,398.63 329.18,395.67 328.2,393.3C327.22,390.93 326.05,388.88 324.8,387.5C323.55,386.12 322.22,385.83 320.7,385C319.18,384.17 317.37,383.47 315.7,382.5C314.03,381.53 312.37,380.58 310.7,379.2C309.03,377.82 307.52,375.87 305.7,374.2C303.88,372.53 301.47,370.45 299.8,369.2C298.13,367.95 297.5,367.78 295.7,366.7C293.9,365.62 290.95,363.68 289,362.7C287.05,361.72 285.95,361.47 284,360.8C282.05,360.13 280.08,359.38 277.3,358.7C274.52,358.02 271.73,357.35 267.3,356.7C262.87,356.05 256.25,355.28 250.7,354.8C245.15,354.32 238.12,354.05 234,353.8C229.88,353.55 230.12,353.6 226,353.3C221.88,353 214.85,352.33 209.3,352C203.75,351.67 201.03,351.5 192.7,351.3C184.37,351.1 170.42,350.85 159.3,350.8C148.18,350.75 132.88,351 126,351C119.12,351 122.12,350.83 118,350.8C113.88,350.77 106.85,350.65 101.3,350.8C95.75,350.95 90.25,351.33 84.7,351.7C79.15,352.07 73.57,352.45 68,353C62.43,353.55 56.85,354.17 51.3,355C45.75,355.83 39.87,357.03 34.7,358C29.53,358.97 23.75,360.13 20.3,360.8C16.85,361.47 15.05,361.8 14,362Z" fill="#e41a1c" fill-opacity="0.2"/><path d="M14,373.5C15.05,373.33 17.08,373.17 20.3,372.5C23.52,371.83 28.27,370.75 33.3,369.5C38.33,368.25 44.72,367 50.5,365C56.28,363 62.3,359.72 68,357.5C73.7,355.28 80.53,353.65 84.7,351.7C88.87,349.75 90.23,347.88 93,345.8C95.77,343.72 98.52,341.42 101.3,339.2C104.08,336.98 106.92,334.87 109.7,332.5C112.48,330.13 115.12,327.83 118,325C120.88,322.17 124.28,318.55 127,315.5C129.72,312.45 131.68,309.57 134.3,306.7C136.92,303.83 139.92,301.08 142.7,298.3C145.48,295.52 148.23,292.92 151,290C153.77,287.08 156.52,284 159.3,280.8C162.08,277.6 164.92,273.98 167.7,270.8C170.48,267.62 173.23,264.2 176,261.7C178.77,259.2 181.52,257.33 184.3,255.8C187.08,254.27 189.92,252.92 192.7,252.5C195.48,252.08 198.23,252.05 201,253.3C203.77,254.55 206.8,257.5 209.3,260C211.8,262.5 213.77,265.38 216,268.3C218.23,271.22 220.48,274.02 222.7,277.5C224.92,280.98 227.25,285.38 229.3,289.2C231.35,293.02 232.83,297.22 235,300.4C237.17,303.58 239.68,305.45 242.3,308.3C244.92,311.15 248.47,315.68 250.7,317.5C252.93,319.32 253.77,319.33 255.7,319.2C257.63,319.07 260.08,317.95 262.3,316.7C264.52,315.45 266.77,314.07 269,311.7C271.23,309.33 273.48,304.67 275.7,302.5C277.92,300.33 280.37,298.98 282.3,298.7C284.23,298.42 285.63,298.92 287.3,300.8C288.97,302.68 290.77,306.67 292.3,310C293.83,313.33 295.25,316.92 296.5,320.8C297.75,324.68 298.83,328.98 299.8,333.3C300.77,337.62 301.6,342.8 302.3,346.7C303,350.6 303.58,354.48 304,356.7C304.42,358.92 304.25,357.23 304.8,360C305.35,362.77 306.32,369.68 307.3,373.3C308.28,376.92 309.58,379.33 310.7,381.7C311.82,384.07 313.03,386.25 314,387.5C314.97,388.75 315.67,389.62 316.5,389.2C317.33,388.78 318.17,386.95 319,385C319.83,383.05 320.38,379.45 321.5,377.5C322.62,375.55 324.45,373.17 325.7,373.3C326.95,373.43 327.9,376.35 329,378.3C330.1,380.25 331.33,384.58 332.3,385C333.27,385.42 334.1,383.3 334.8,380.8C335.5,378.3 336.02,373.13 336.5,370C336.98,366.87 336.28,367 337.7,362C339.12,357 343.78,343.67 345,340L345,430L310,428C309.83,426.67 309.3,421.88 309,420C308.7,418.12 308.62,419.2 308.2,416.7C307.78,414.2 307.2,408.9 306.5,405C305.8,401.1 304.83,397.47 304,393.3C303.17,389.13 302.33,384.43 301.5,380C300.67,375.57 299.83,370.32 299,366.7C298.17,363.08 297.2,361.08 296.5,358.3C295.8,355.52 295.5,353.33 294.8,350C294.1,346.67 293.27,341.63 292.3,338.3C291.33,334.97 290.38,331.93 289,330C287.62,328.07 285.53,327.4 284,326.7C282.47,326 281.47,325.38 279.8,325.8C278.13,326.22 275.8,327.67 274,329.2C272.2,330.73 270.95,333.07 269,335C267.05,336.93 264.52,339.47 262.3,340.8C260.08,342.13 257.63,343.68 255.7,343C253.77,342.32 252.93,339.7 250.7,336.7C248.47,333.7 245.08,328.62 242.3,325C239.52,321.38 236.72,318.47 234,315C231.28,311.53 228.72,307.82 226,304.2C223.28,300.58 220.48,296.78 217.7,293.3C214.92,289.82 212.08,285.8 209.3,283.3C206.52,280.8 203.77,279.4 201,278.3C198.23,277.2 195.48,276.55 192.7,276.7C189.92,276.85 187.08,278.23 184.3,279.2C181.52,280.17 178.77,280.98 176,282.5C173.23,284.02 170.48,285.67 167.7,288.3C164.92,290.93 162.08,294.82 159.3,298.3C156.52,301.78 154.38,305.92 151,309.2C147.62,312.48 142.83,314.95 139,318C135.17,321.05 131.5,324.25 128,327.5C124.5,330.75 121.05,334.58 118,337.5C114.95,340.42 112.48,342.78 109.7,345C106.92,347.22 104.08,348.72 101.3,350.8C98.52,352.88 95.77,355.55 93,357.5C90.23,359.45 87.42,360.7 84.7,362.5C81.98,364.3 79.57,366.47 76.7,368.3C73.83,370.13 71.95,371.13 67.5,373.5C63.05,375.87 55.7,380.03 50,382.5C44.3,384.97 38.25,386.83 33.3,388.3C28.35,389.77 23.52,390.52 20.3,391.3C17.08,392.08 15.05,392.72 14,393Z" fill="#009e73" fill-opacity="0.2"/><line x1="20.3" y1="345.3" x2="337.7" y2="345.3" stroke="#e3352b" stroke-width="1.3"/><path d="M14,327.5C15.05,327.7 16.85,327.95 20.3,328.7C23.75,329.45 29.53,330.9 34.7,332C39.87,333.1 45.75,334.38 51.3,335.3C56.85,336.22 62.43,336.92 68,337.5C73.57,338.08 79.15,338.43 84.7,338.8C90.25,339.17 95.75,339.5 101.3,339.7C106.85,339.9 113.88,339.95 118,340C122.12,340.05 119.12,340.05 126,340C132.88,339.95 148.18,339.98 159.3,339.7C170.42,339.42 181.58,338.72 192.7,338.3C203.82,337.88 219.12,337.42 226,337.2C232.88,336.98 229.88,337.15 234,337C238.12,336.85 245.15,336.58 250.7,336.3C256.25,336.02 262.87,335.85 267.3,335.3C271.73,334.75 274.52,333.75 277.3,333C280.08,332.25 281.77,331.85 284,330.8C286.23,329.75 288.48,328.37 290.7,326.7C292.92,325.03 295.37,322.75 297.3,320.8C299.23,318.85 300.63,317.08 302.3,315C303.97,312.92 305.63,310.67 307.3,308.3C308.97,305.93 310.63,303.3 312.3,300.8C313.97,298.3 316.02,295.27 317.3,293.3C318.58,291.33 319.02,290.93 320,289C320.98,287.07 322.25,284.73 323.2,281.7C324.15,278.67 325.02,274.28 325.7,270.8C326.38,267.32 326.8,264.27 327.3,260.8C327.8,257.33 328.28,253.6 328.7,250C329.12,246.4 329.47,241.98 329.8,239.2C330.13,236.42 330.47,235.67 330.7,233.3C330.93,230.93 331.12,226.38 331.2,225" fill="none" stroke="#e04848" stroke-width="1.25" stroke-dasharray="1.1 4.2"/><path d="M14,362C15.05,361.8 16.85,361.47 20.3,360.8C23.75,360.13 29.53,358.97 34.7,358C39.87,357.03 45.75,355.83 51.3,355C56.85,354.17 62.43,353.55 68,353C73.57,352.45 79.15,352.07 84.7,351.7C90.25,351.33 95.75,350.95 101.3,350.8C106.85,350.65 113.88,350.77 118,350.8C122.12,350.83 119.12,351 126,351C132.88,351 148.18,350.75 159.3,350.8C170.42,350.85 184.37,351.1 192.7,351.3C201.03,351.5 203.75,351.67 209.3,352C214.85,352.33 221.88,353 226,353.3C230.12,353.6 229.88,353.55 234,353.8C238.12,354.05 245.15,354.32 250.7,354.8C256.25,355.28 262.87,356.05 267.3,356.7C271.73,357.35 274.52,358.02 277.3,358.7C280.08,359.38 282.05,360.13 284,360.8C285.95,361.47 287.05,361.72 289,362.7C290.95,363.68 293.9,365.62 295.7,366.7C297.5,367.78 298.13,367.95 299.8,369.2C301.47,370.45 303.88,372.53 305.7,374.2C307.52,375.87 309.03,377.82 310.7,379.2C312.37,380.58 314.03,381.53 315.7,382.5C317.37,383.47 319.18,384.17 320.7,385C322.22,385.83 323.55,386.12 324.8,387.5C326.05,388.88 327.22,390.93 328.2,393.3C329.18,395.67 330.02,398.63 330.7,401.7C331.38,404.77 331.88,408.78 332.3,411.7C332.72,414.62 333,416.48 333.2,419.2C333.4,421.92 333.45,426.53 333.5,428" fill="none" stroke="#e04848" stroke-width="1.25" stroke-dasharray="1.1 4.2"/><path d="M14,373.5C15.05,373.33 17.08,373.17 20.3,372.5C23.52,371.83 28.27,370.75 33.3,369.5C38.33,368.25 44.72,367 50.5,365C56.28,363 62.3,359.72 68,357.5C73.7,355.28 80.53,353.65 84.7,351.7C88.87,349.75 90.23,347.88 93,345.8C95.77,343.72 98.52,341.42 101.3,339.2C104.08,336.98 106.92,334.87 109.7,332.5C112.48,330.13 115.12,327.83 118,325C120.88,322.17 124.28,318.55 127,315.5C129.72,312.45 131.68,309.57 134.3,306.7C136.92,303.83 139.92,301.08 142.7,298.3C145.48,295.52 148.23,292.92 151,290C153.77,287.08 156.52,284 159.3,280.8C162.08,277.6 164.92,273.98 167.7,270.8C170.48,267.62 173.23,264.2 176,261.7C178.77,259.2 181.52,257.33 184.3,255.8C187.08,254.27 189.92,252.92 192.7,252.5C195.48,252.08 198.23,252.05 201,253.3C203.77,254.55 206.8,257.5 209.3,260C211.8,262.5 213.77,265.38 216,268.3C218.23,271.22 220.48,274.02 222.7,277.5C224.92,280.98 227.25,285.38 229.3,289.2C231.35,293.02 232.83,297.22 235,300.4C237.17,303.58 239.68,305.45 242.3,308.3C244.92,311.15 248.47,315.68 250.7,317.5C252.93,319.32 253.77,319.33 255.7,319.2C257.63,319.07 260.08,317.95 262.3,316.7C264.52,315.45 266.77,314.07 269,311.7C271.23,309.33 273.48,304.67 275.7,302.5C277.92,300.33 280.37,298.98 282.3,298.7C284.23,298.42 285.63,298.92 287.3,300.8C288.97,302.68 290.77,306.67 292.3,310C293.83,313.33 295.25,316.92 296.5,320.8C297.75,324.68 298.83,328.98 299.8,333.3C300.77,337.62 301.6,342.8 302.3,346.7C303,350.6 303.58,354.48 304,356.7C304.42,358.92 304.25,357.23 304.8,360C305.35,362.77 306.32,369.68 307.3,373.3C308.28,376.92 309.58,379.33 310.7,381.7C311.82,384.07 313.03,386.25 314,387.5C314.97,388.75 315.67,389.62 316.5,389.2C317.33,388.78 318.17,386.95 319,385C319.83,383.05 320.38,379.45 321.5,377.5C322.62,375.55 324.45,373.17 325.7,373.3C326.95,373.43 327.9,376.35 329,378.3C330.1,380.25 331.33,384.58 332.3,385C333.27,385.42 334.1,383.3 334.8,380.8C335.5,378.3 336.02,373.13 336.5,370C336.98,366.87 336.28,367 337.7,362C339.12,357 343.78,343.67 345,340" fill="none" stroke="#2a9f7c" stroke-width="1.25" stroke-dasharray="1.1 4.2"/><path d="M14,393C15.05,392.72 17.08,392.08 20.3,391.3C23.52,390.52 28.35,389.77 33.3,388.3C38.25,386.83 44.3,384.97 50,382.5C55.7,380.03 63.05,375.87 67.5,373.5C71.95,371.13 73.83,370.13 76.7,368.3C79.57,366.47 81.98,364.3 84.7,362.5C87.42,360.7 90.23,359.45 93,357.5C95.77,355.55 98.52,352.88 101.3,350.8C104.08,348.72 106.92,347.22 109.7,345C112.48,342.78 114.95,340.42 118,337.5C121.05,334.58 124.5,330.75 128,327.5C131.5,324.25 135.17,321.05 139,318C142.83,314.95 147.62,312.48 151,309.2C154.38,305.92 156.52,301.78 159.3,298.3C162.08,294.82 164.92,290.93 167.7,288.3C170.48,285.67 173.23,284.02 176,282.5C178.77,280.98 181.52,280.17 184.3,279.2C187.08,278.23 189.92,276.85 192.7,276.7C195.48,276.55 198.23,277.2 201,278.3C203.77,279.4 206.52,280.8 209.3,283.3C212.08,285.8 214.92,289.82 217.7,293.3C220.48,296.78 223.28,300.58 226,304.2C228.72,307.82 231.28,311.53 234,315C236.72,318.47 239.52,321.38 242.3,325C245.08,328.62 248.47,333.7 250.7,336.7C252.93,339.7 253.77,342.32 255.7,343C257.63,343.68 260.08,342.13 262.3,340.8C264.52,339.47 267.05,336.93 269,335C270.95,333.07 272.2,330.73 274,329.2C275.8,327.67 278.13,326.22 279.8,325.8C281.47,325.38 282.47,326 284,326.7C285.53,327.4 287.62,328.07 289,330C290.38,331.93 291.33,334.97 292.3,338.3C293.27,341.63 294.1,346.67 294.8,350C295.5,353.33 295.8,355.52 296.5,358.3C297.2,361.08 298.17,363.08 299,366.7C299.83,370.32 300.67,375.57 301.5,380C302.33,384.43 303.17,389.13 304,393.3C304.83,397.47 305.8,401.1 306.5,405C307.2,408.9 307.78,414.2 308.2,416.7C308.62,419.2 308.7,418.12 309,420C309.3,421.88 309.83,426.67 310,428" fill="none" stroke="#2a9f7c" stroke-width="1.25" stroke-dasharray="1.1 4.2"/><path d="M14,382C15.05,381.8 17.08,381.42 20.3,380.8C23.52,380.18 29.73,379.18 33.3,378.3C36.87,377.42 38.92,376.47 41.7,375.5C44.48,374.53 47.78,373.28 50,372.5C52.22,371.72 52.78,371.77 55,370.8C57.22,369.83 61.13,367.72 63.3,366.7C65.47,365.68 65.83,365.68 68,364.7C70.17,363.72 73.52,362.13 76.3,360.8C79.08,359.47 81.92,358.17 84.7,356.7C87.48,355.23 90.23,353.95 93,352C95.77,350.05 98.52,347.28 101.3,345C104.08,342.72 106.92,340.67 109.7,338.3C112.48,335.93 115.28,333.43 118,330.8C120.72,328.17 123.28,325.13 126,322.5C128.72,319.87 131.52,317.5 134.3,315C137.08,312.5 139.92,310.13 142.7,307.5C145.48,304.87 148.23,301.98 151,299.2C153.77,296.42 156.52,293.72 159.3,290.8C162.08,287.88 164.92,284.88 167.7,281.7C170.48,278.52 173.23,274.35 176,271.7C178.77,269.05 181.52,267.42 184.3,265.8C187.08,264.18 190.2,262.55 192.7,262C195.2,261.45 197.08,261.87 199.3,262.5C201.52,263.13 203.77,264.13 206,265.8C208.23,267.47 210.48,269.58 212.7,272.5C214.92,275.42 217.08,279.55 219.3,283.3C221.52,287.05 223.72,291.33 226,295C228.28,298.67 230.28,301.97 233,305.3C235.72,308.63 239.35,312 242.3,315C245.25,318 248.47,321.08 250.7,323.3C252.93,325.52 253.77,327.6 255.7,328.3C257.63,329 260.08,328.6 262.3,327.5C264.52,326.4 266.77,324.07 269,321.7C271.23,319.33 273.62,315.2 275.7,313.3C277.78,311.4 279.57,310.3 281.5,310.3C283.43,310.3 285.5,311.13 287.3,313.3C289.1,315.47 290.9,319.82 292.3,323.3C293.7,326.78 294.72,330.42 295.7,334.2C296.68,337.98 297.37,342.25 298.2,346C299.03,349.75 299.87,352.98 300.7,356.7C301.53,360.42 302.37,364.42 303.2,368.3C304.03,372.18 304.87,375.83 305.7,380C306.53,384.17 307.37,389.13 308.2,393.3C309.03,397.47 309.73,401.67 310.7,405C311.67,408.33 312.9,411.77 314,413.3C315.1,414.83 316.18,414.62 317.3,414.2C318.42,413.78 319.72,411.45 320.7,410.8C321.68,410.15 322.43,409.6 323.2,410.3C323.97,411 324.67,413.38 325.3,415C325.93,416.62 326.55,417.83 327,420C327.45,422.17 327.83,426.67 328,428" fill="none" stroke="#1fa07a" stroke-width="1.35" stroke-linejoin="round"/></g>
<rect x="20.3" y="233.3" width="317.4" height="186.7" fill="none" stroke="#a8a8a8" stroke-width="1.1"/><path d="M39.83,420v-1.8M39.83,233.3v1.8M51.38,420v-1.8M51.38,233.3v1.8M59.57,420v-1.8M59.57,233.3v1.8M65.92,420v-1.8M65.92,233.3v1.8M71.11,420v-1.8M71.11,233.3v1.8M75.5,420v-1.8M75.5,233.3v1.8M79.3,420v-1.8M79.3,233.3v1.8M82.65,420v-1.8M82.65,233.3v1.8M85.65,420v-3.9M85.65,233.3v3.9M105.38,420v-1.8M105.38,233.3v1.8M116.93,420v-1.8M116.93,233.3v1.8M125.12,420v-1.8M125.12,233.3v1.8M131.47,420v-1.8M131.47,233.3v1.8M136.66,420v-1.8M136.66,233.3v1.8M141.05,420v-1.8M141.05,233.3v1.8M144.85,420v-1.8M144.85,233.3v1.8M148.2,420v-1.8M148.2,233.3v1.8M151.2,420v-3.9M151.2,233.3v3.9M170.93,420v-1.8M170.93,233.3v1.8M182.48,420v-1.8M182.48,233.3v1.8M190.67,420v-1.8M190.67,233.3v1.8M197.02,420v-1.8M197.02,233.3v1.8M202.21,420v-1.8M202.21,233.3v1.8M206.6,420v-1.8M206.6,233.3v1.8M210.4,420v-1.8M210.4,233.3v1.8M213.75,420v-1.8M213.75,233.3v1.8M216.75,420v-3.9M216.75,233.3v3.9M236.48,420v-1.8M236.48,233.3v1.8M248.03,420v-1.8M248.03,233.3v1.8M256.22,420v-1.8M256.22,233.3v1.8M262.57,420v-1.8M262.57,233.3v1.8M267.76,420v-1.8M267.76,233.3v1.8M272.15,420v-1.8M272.15,233.3v1.8M275.95,420v-1.8M275.95,233.3v1.8M279.3,420v-1.8M279.3,233.3v1.8M282.3,420v-3.9M282.3,233.3v3.9M302.03,420v-1.8M302.03,233.3v1.8M313.58,420v-1.8M313.58,233.3v1.8M321.77,420v-1.8M321.77,233.3v1.8M328.12,420v-1.8M328.12,233.3v1.8M333.31,420v-1.8M333.31,233.3v1.8M20.3,382.6h3.9M337.7,382.6h-3.9M20.3,345.3h3.9M337.7,345.3h-3.9M20.3,308h3.9M337.7,308h-3.9M20.3,270.7h3.9M337.7,270.7h-3.9" stroke="#6a6a6a" stroke-width="0.9" fill="none"/>
<g font-size="7.1" text-anchor="end"><text x="14.7" y="422.8">0.80</text><text x="14.7" y="385.5">0.90</text><text x="14.7" y="348.2">1.00</text><text x="14.7" y="310.9">1.10</text><text x="14.7" y="273.6">1.20</text><text x="14.7" y="236.3">1.30</text></g>
<g font-size="9.2" text-anchor="middle"><text x="20.1" y="433">10<tspan font-size="7" dy="-3.6">-5</tspan></text><text x="85.65" y="433">10<tspan font-size="7" dy="-3.6">-4</tspan></text><text x="151.2" y="433">10<tspan font-size="7" dy="-3.6">-3</tspan></text><text x="216.75" y="433">10<tspan font-size="7" dy="-3.6">-2</tspan></text><text x="282.3" y="433">10<tspan font-size="7" dy="-3.6">-1</tspan></text></g>
<text x="179" y="437.9" font-size="9.4" text-anchor="middle">x</text>
<g font-size="7.7" letter-spacing="-0.1" text-anchor="end"><text x="72.7" y="248.7">MMHT14LO</text><text x="72.7" y="260.1">MSHT20LO</text></g><line x1="76.7" y1="245.6" x2="97.7" y2="245.6" stroke="#e3352b" stroke-width="1.2"/><line x1="76.7" y1="257" x2="97.7" y2="257" stroke="#1fa07a" stroke-width="1.5"/>
<text x="22.5" y="228" font-size="7.6">∂<tspan dx="0.9">(LO) at Q</tspan><tspan font-size="5.6" dy="-3.7">2</tspan><tspan dy="3.7"> = 10</tspan><tspan font-size="5.6" dy="-3.7">4</tspan><tspan dy="3.7"> GeV</tspan><tspan font-size="5.6" dy="-3.7">2</tspan></text>
<g stroke="#eeeeee" stroke-width="0.8" stroke-dasharray="1.2 1.6"><line x1="432.75" y1="233.3" x2="432.75" y2="420"/><line x1="498.3" y1="233.3" x2="498.3" y2="420"/><line x1="563.85" y1="233.3" x2="563.85" y2="420"/><line x1="629.4" y1="233.3" x2="629.4" y2="420"/><line x1="367.3" y1="403.2" x2="684.7" y2="403.2"/><line x1="367.3" y1="386.2" x2="684.7" y2="386.2"/><line x1="367.3" y1="369.2" x2="684.7" y2="369.2"/><line x1="367.3" y1="352.2" x2="684.7" y2="352.2"/><line x1="367.3" y1="335.2" x2="684.7" y2="335.2"/><line x1="367.3" y1="318.2" x2="684.7" y2="318.2"/><line x1="367.3" y1="301.2" x2="684.7" y2="301.2"/><line x1="367.3" y1="284.2" x2="684.7" y2="284.2"/><line x1="367.3" y1="267.2" x2="684.7" y2="267.2"/><line x1="367.3" y1="250.2" x2="684.7" y2="250.2"/></g>
<g clip-path="url(#cP4)"><path d="M360,270C361.25,270.17 364.05,270.5 367.5,271C370.95,271.5 375.73,272.05 380.7,273C385.67,273.95 391.75,275.53 397.3,276.7C402.85,277.87 408.43,278.9 414,280C419.57,281.1 425.15,282.33 430.7,283.3C436.25,284.27 441.75,284.97 447.3,285.8C452.85,286.63 459.88,287.55 464,288.3C468.12,289.05 467.88,289.68 472,290.3C476.12,290.92 483.15,291.35 488.7,292C494.25,292.65 499.75,293.75 505.3,294.2C510.85,294.65 516.43,294.62 522,294.7C527.57,294.78 533.15,294.77 538.7,294.7C544.25,294.63 549.25,294.2 555.3,294.3C561.35,294.4 566.17,294.98 575,295.3C583.83,295.62 597.18,295.75 608.3,296.2C619.42,296.65 631.7,297.65 641.7,298C651.7,298.35 662.2,298.38 668.3,298.3C674.4,298.22 675.6,297.77 678.3,297.5C681,297.23 682.22,296.95 684.5,296.7C686.78,296.45 690.75,296.12 692,296L692,305.5C690.75,305.47 688.45,305.38 684.5,305.3C680.55,305.22 675.43,304.83 668.3,305C661.17,305.17 651.7,305.97 641.7,306.3C631.7,306.63 619.42,306.88 608.3,307C597.18,307.12 583.83,307.05 575,307C566.17,306.95 561.35,306.75 555.3,306.7C549.25,306.65 544.25,306.77 538.7,306.7C533.15,306.63 527.57,306.37 522,306.3C516.43,306.23 510.85,306.18 505.3,306.3C499.75,306.42 493.92,306.68 488.7,307C483.48,307.32 478.12,307.83 474,308.2C469.88,308.57 468.45,308.62 464,309.2C459.55,309.78 452.85,310.73 447.3,311.7C441.75,312.67 436.25,313.9 430.7,315C425.15,316.1 419.57,317.18 414,318.3C408.43,319.42 402.85,320.3 397.3,321.7C391.75,323.1 385.67,325.37 380.7,326.7C375.73,328.03 370.95,328.98 367.5,329.7C364.05,330.42 361.25,330.78 360,331Z" fill="#e41a1c" fill-opacity="0.2"/><path d="M360,225L395.5,225C396.08,226.38 397.58,230.1 399,233.3C400.42,236.5 402.33,240.87 404,244.2C405.67,247.53 407.33,250.25 409,253.3C410.67,256.35 412.33,259.43 414,262.5C415.67,265.57 417.33,268.65 419,271.7C420.67,274.75 422.47,277.88 424,280.8C425.53,283.72 426.82,286.55 428.2,289.2C429.58,291.85 431.05,294.62 432.3,296.7C433.55,298.78 434.03,299.35 435.7,301.7C437.37,304.05 440.37,308.3 442.3,310.8C444.23,313.3 445.07,314.2 447.3,316.7C449.53,319.2 452.92,322.62 455.7,325.8C458.48,328.98 461.28,333.15 464,335.8C466.72,338.45 469.28,339.75 472,341.7C474.72,343.65 477.8,345.78 480.3,347.5C482.8,349.22 484.55,350.62 487,352C489.45,353.38 492.28,354.6 495,355.8C497.72,357 500.52,358.37 503.3,359.2C506.08,360.03 508.92,360.42 511.7,360.8C514.48,361.18 517.78,361.42 520,361.5C522.22,361.58 522.78,361.55 525,361.3C527.22,361.05 530.52,360.55 533.3,360C536.08,359.45 538.92,358.83 541.7,358C544.48,357.17 547.23,356.2 550,355C552.77,353.8 555.52,352.33 558.3,350.8C561.08,349.27 563.92,347.6 566.7,345.8C569.48,344 572.23,342.12 575,340C577.77,337.88 580.52,335.4 583.3,333.1C586.08,330.8 588.92,328.52 591.7,326.2C594.48,323.88 597.23,321.33 600,319.2C602.77,317.07 605.47,315.22 608.3,313.4C611.13,311.58 614.22,309.6 617,308.3C619.78,307 622.28,306.2 625,305.6C627.72,305 630.52,304.72 633.3,304.7C636.08,304.68 638.92,305.12 641.7,305.5C644.48,305.88 647.23,306.3 650,307C652.77,307.7 655.52,308.92 658.3,309.7C661.08,310.48 663.92,311.03 666.7,311.7C669.48,312.37 672.5,313.48 675,313.7C677.5,313.92 680.08,313.62 681.7,313C683.32,312.38 682.98,311.33 684.7,310C686.42,308.67 690.78,305.83 692,305L692,320C690.78,320.13 686.42,320.58 684.7,320.8C682.98,321.02 683.32,321.3 681.7,321.3C680.08,321.3 677.5,321.3 675,320.8C672.5,320.3 669.48,319.13 666.7,318.3C663.92,317.47 661.08,316.68 658.3,315.8C655.52,314.92 652.77,313.83 650,313C647.23,312.17 644.48,311.22 641.7,310.8C638.92,310.38 636.08,310.1 633.3,310.5C630.52,310.9 627.77,312.08 625,313.2C622.23,314.32 619.48,315.6 616.7,317.2C613.92,318.8 611.08,320.43 608.3,322.8C605.52,325.17 602.77,328.48 600,331.4C597.23,334.32 594.48,337.48 591.7,340.3C588.92,343.12 586.08,345.15 583.3,348.3C580.52,351.45 577.77,355.72 575,359.2C572.23,362.68 569.48,365.73 566.7,369.2C563.92,372.67 561.08,376.67 558.3,380C555.52,383.33 552.77,386.42 550,389.2C547.23,391.98 545.03,394.35 541.7,396.7C538.37,399.05 533.62,401.08 530,403.3C526.38,405.52 523.05,408.18 520,410C516.95,411.82 514.48,413.08 511.7,414.2C508.92,415.32 506.08,416.15 503.3,416.7C500.52,417.25 497.77,417.45 495,417.5C492.23,417.55 489.48,417.37 486.7,417C483.92,416.63 481.08,416.05 478.3,415.3C475.52,414.55 472.77,413.67 470,412.5C467.23,411.33 464.48,409.83 461.7,408.3C458.92,406.77 456.08,405.1 453.3,403.3C450.52,401.5 447.77,399.72 445,397.5C442.23,395.28 439.48,392.63 436.7,390C433.92,387.37 431.08,384.48 428.3,381.7C425.52,378.92 422.67,375.8 420,373.3C417.33,370.8 414.68,369.47 412.3,366.7C409.92,363.93 408.2,360.6 405.7,356.7C403.2,352.8 399.8,347.47 397.3,343.3C394.8,339.13 392.92,335.3 390.7,331.7C388.48,328.1 386.23,325.32 384,321.7C381.77,318.08 378.92,313.02 377.3,310C375.68,306.98 375.2,305.5 374.3,303.6C373.4,301.7 372.67,300.25 371.9,298.6C371.13,296.95 370.43,295.33 369.7,293.7C368.97,292.07 368.45,290.75 367.5,288.8C366.55,286.85 364.58,283.13 364,282Z" fill="#009e73" fill-opacity="0.2"/><line x1="367.3" y1="301.2" x2="684.7" y2="301.2" stroke="#e3352b" stroke-width="1.3"/><path d="M360,270C361.25,270.17 364.05,270.5 367.5,271C370.95,271.5 375.73,272.05 380.7,273C385.67,273.95 391.75,275.53 397.3,276.7C402.85,277.87 408.43,278.9 414,280C419.57,281.1 425.15,282.33 430.7,283.3C436.25,284.27 441.75,284.97 447.3,285.8C452.85,286.63 459.88,287.55 464,288.3C468.12,289.05 467.88,289.68 472,290.3C476.12,290.92 483.15,291.35 488.7,292C494.25,292.65 499.75,293.75 505.3,294.2C510.85,294.65 516.43,294.62 522,294.7C527.57,294.78 533.15,294.77 538.7,294.7C544.25,294.63 549.25,294.2 555.3,294.3C561.35,294.4 566.17,294.98 575,295.3C583.83,295.62 597.18,295.75 608.3,296.2C619.42,296.65 631.7,297.65 641.7,298C651.7,298.35 662.2,298.38 668.3,298.3C674.4,298.22 675.6,297.77 678.3,297.5C681,297.23 682.22,296.95 684.5,296.7C686.78,296.45 690.75,296.12 692,296" fill="none" stroke="#e04848" stroke-width="1.25" stroke-dasharray="1.1 4.2"/><path d="M360,331C361.25,330.78 364.05,330.42 367.5,329.7C370.95,328.98 375.73,328.03 380.7,326.7C385.67,325.37 391.75,323.1 397.3,321.7C402.85,320.3 408.43,319.42 414,318.3C419.57,317.18 425.15,316.1 430.7,315C436.25,313.9 441.75,312.67 447.3,311.7C452.85,310.73 459.55,309.78 464,309.2C468.45,308.62 469.88,308.57 474,308.2C478.12,307.83 483.48,307.32 488.7,307C493.92,306.68 499.75,306.42 505.3,306.3C510.85,306.18 516.43,306.23 522,306.3C527.57,306.37 533.15,306.63 538.7,306.7C544.25,306.77 549.25,306.65 555.3,306.7C561.35,306.75 566.17,306.95 575,307C583.83,307.05 597.18,307.12 608.3,307C619.42,306.88 631.7,306.63 641.7,306.3C651.7,305.97 661.17,305.17 668.3,305C675.43,304.83 680.55,305.22 684.5,305.3C688.45,305.38 690.75,305.47 692,305.5" fill="none" stroke="#e04848" stroke-width="1.25" stroke-dasharray="1.1 4.2"/><path d="M395.5,225C396.08,226.38 397.58,230.1 399,233.3C400.42,236.5 402.33,240.87 404,244.2C405.67,247.53 407.33,250.25 409,253.3C410.67,256.35 412.33,259.43 414,262.5C415.67,265.57 417.33,268.65 419,271.7C420.67,274.75 422.47,277.88 424,280.8C425.53,283.72 426.82,286.55 428.2,289.2C429.58,291.85 431.05,294.62 432.3,296.7C433.55,298.78 434.03,299.35 435.7,301.7C437.37,304.05 440.37,308.3 442.3,310.8C444.23,313.3 445.07,314.2 447.3,316.7C449.53,319.2 452.92,322.62 455.7,325.8C458.48,328.98 461.28,333.15 464,335.8C466.72,338.45 469.28,339.75 472,341.7C474.72,343.65 477.8,345.78 480.3,347.5C482.8,349.22 484.55,350.62 487,352C489.45,353.38 492.28,354.6 495,355.8C497.72,357 500.52,358.37 503.3,359.2C506.08,360.03 508.92,360.42 511.7,360.8C514.48,361.18 517.78,361.42 520,361.5C522.22,361.58 522.78,361.55 525,361.3C527.22,361.05 530.52,360.55 533.3,360C536.08,359.45 538.92,358.83 541.7,358C544.48,357.17 547.23,356.2 550,355C552.77,353.8 555.52,352.33 558.3,350.8C561.08,349.27 563.92,347.6 566.7,345.8C569.48,344 572.23,342.12 575,340C577.77,337.88 580.52,335.4 583.3,333.1C586.08,330.8 588.92,328.52 591.7,326.2C594.48,323.88 597.23,321.33 600,319.2C602.77,317.07 605.47,315.22 608.3,313.4C611.13,311.58 614.22,309.6 617,308.3C619.78,307 622.28,306.2 625,305.6C627.72,305 630.52,304.72 633.3,304.7C636.08,304.68 638.92,305.12 641.7,305.5C644.48,305.88 647.23,306.3 650,307C652.77,307.7 655.52,308.92 658.3,309.7C661.08,310.48 663.92,311.03 666.7,311.7C669.48,312.37 672.5,313.48 675,313.7C677.5,313.92 680.08,313.62 681.7,313C683.32,312.38 682.98,311.33 684.7,310C686.42,308.67 690.78,305.83 692,305" fill="none" stroke="#2a9f7c" stroke-width="1.25" stroke-dasharray="1.1 4.2"/><path d="M364,282C364.58,283.13 366.55,286.85 367.5,288.8C368.45,290.75 368.97,292.07 369.7,293.7C370.43,295.33 371.13,296.95 371.9,298.6C372.67,300.25 373.4,301.7 374.3,303.6C375.2,305.5 375.68,306.98 377.3,310C378.92,313.02 381.77,318.08 384,321.7C386.23,325.32 388.48,328.1 390.7,331.7C392.92,335.3 394.8,339.13 397.3,343.3C399.8,347.47 403.2,352.8 405.7,356.7C408.2,360.6 409.92,363.93 412.3,366.7C414.68,369.47 417.33,370.8 420,373.3C422.67,375.8 425.52,378.92 428.3,381.7C431.08,384.48 433.92,387.37 436.7,390C439.48,392.63 442.23,395.28 445,397.5C447.77,399.72 450.52,401.5 453.3,403.3C456.08,405.1 458.92,406.77 461.7,408.3C464.48,409.83 467.23,411.33 470,412.5C472.77,413.67 475.52,414.55 478.3,415.3C481.08,416.05 483.92,416.63 486.7,417C489.48,417.37 492.23,417.55 495,417.5C497.77,417.45 500.52,417.25 503.3,416.7C506.08,416.15 508.92,415.32 511.7,414.2C514.48,413.08 516.95,411.82 520,410C523.05,408.18 526.38,405.52 530,403.3C533.62,401.08 538.37,399.05 541.7,396.7C545.03,394.35 547.23,391.98 550,389.2C552.77,386.42 555.52,383.33 558.3,380C561.08,376.67 563.92,372.67 566.7,369.2C569.48,365.73 572.23,362.68 575,359.2C577.77,355.72 580.52,351.45 583.3,348.3C586.08,345.15 588.92,343.12 591.7,340.3C594.48,337.48 597.23,334.32 600,331.4C602.77,328.48 605.52,325.17 608.3,322.8C611.08,320.43 613.92,318.8 616.7,317.2C619.48,315.6 622.23,314.32 625,313.2C627.77,312.08 630.52,310.9 633.3,310.5C636.08,310.1 638.92,310.38 641.7,310.8C644.48,311.22 647.23,312.17 650,313C652.77,313.83 655.52,314.92 658.3,315.8C661.08,316.68 663.92,317.47 666.7,318.3C669.48,319.13 672.5,320.3 675,320.8C677.5,321.3 680.08,321.3 681.7,321.3C683.32,321.3 682.98,321.02 684.7,320.8C686.42,320.58 690.78,320.13 692,320" fill="none" stroke="#2a9f7c" stroke-width="1.25" stroke-dasharray="1.1 4.2"/><path d="M365.5,226C366.17,227.33 366.92,228.58 369.5,234C372.08,239.42 377.13,250.25 381,258.5C384.87,266.75 389.7,277.33 392.7,283.5C395.7,289.67 396.83,291.37 399,295.5C401.17,299.63 403.2,303.8 405.7,308.3C408.2,312.8 411.23,317.92 414,322.5C416.77,327.08 419.52,331.77 422.3,335.8C425.08,339.83 427.92,343.22 430.7,346.7C433.48,350.18 436.23,353.65 439,356.7C441.77,359.75 444.92,362.78 447.3,365C449.68,367.22 450.9,368.05 453.3,370C455.7,371.95 458.92,374.75 461.7,376.7C464.48,378.65 467.23,380.18 470,381.7C472.77,383.22 475.52,384.55 478.3,385.8C481.08,387.05 483.92,388.28 486.7,389.2C489.48,390.12 492.23,390.75 495,391.3C497.77,391.85 500.52,392.38 503.3,392.5C506.08,392.62 508.92,392.37 511.7,392C514.48,391.63 517.78,390.85 520,390.3C522.22,389.75 522.78,389.45 525,388.7C527.22,387.95 530.52,386.97 533.3,385.8C536.08,384.63 538.92,383.37 541.7,381.7C544.48,380.03 547.23,377.88 550,375.8C552.77,373.72 555.52,371.7 558.3,369.2C561.08,366.7 563.92,363.72 566.7,360.8C569.48,357.88 572.23,354.75 575,351.7C577.77,348.65 580.52,345.42 583.3,342.5C586.08,339.58 588.92,337.02 591.7,334.2C594.48,331.38 597.23,328.3 600,325.6C602.77,322.9 605.52,320.13 608.3,318C611.08,315.87 613.92,314.22 616.7,312.8C619.48,311.38 622.23,310.38 625,309.5C627.77,308.62 630.52,307.75 633.3,307.5C636.08,307.25 638.92,307.63 641.7,308C644.48,308.37 647.23,308.95 650,309.7C652.77,310.45 655.52,311.57 658.3,312.5C661.08,313.43 663.92,314.38 666.7,315.3C669.48,316.22 672.5,317.5 675,318C677.5,318.5 680.03,318.52 681.7,318.3C683.37,318.08 683.28,317.58 685,316.7C686.72,315.82 690.83,313.62 692,313" fill="none" stroke="#1fa07a" stroke-width="1.35" stroke-linejoin="round"/></g>
<rect x="367.3" y="233.3" width="317.4" height="186.7" fill="none" stroke="#a8a8a8" stroke-width="1.1"/><path d="M386.93,420v-1.8M386.93,233.3v1.8M398.48,420v-1.8M398.48,233.3v1.8M406.67,420v-1.8M406.67,233.3v1.8M413.02,420v-1.8M413.02,233.3v1.8M418.21,420v-1.8M418.21,233.3v1.8M422.6,420v-1.8M422.6,233.3v1.8M426.4,420v-1.8M426.4,233.3v1.8M429.75,420v-1.8M429.75,233.3v1.8M432.75,420v-3.9M432.75,233.3v3.9M452.48,420v-1.8M452.48,233.3v1.8M464.03,420v-1.8M464.03,233.3v1.8M472.22,420v-1.8M472.22,233.3v1.8M478.57,420v-1.8M478.57,233.3v1.8M483.76,420v-1.8M483.76,233.3v1.8M488.15,420v-1.8M488.15,233.3v1.8M491.95,420v-1.8M491.95,233.3v1.8M495.3,420v-1.8M495.3,233.3v1.8M498.3,420v-3.9M498.3,233.3v3.9M518.03,420v-1.8M518.03,233.3v1.8M529.58,420v-1.8M529.58,233.3v1.8M537.77,420v-1.8M537.77,233.3v1.8M544.12,420v-1.8M544.12,233.3v1.8M549.31,420v-1.8M549.31,233.3v1.8M553.7,420v-1.8M553.7,233.3v1.8M557.5,420v-1.8M557.5,233.3v1.8M560.85,420v-1.8M560.85,233.3v1.8M563.85,420v-3.9M563.85,233.3v3.9M583.58,420v-1.8M583.58,233.3v1.8M595.13,420v-1.8M595.13,233.3v1.8M603.32,420v-1.8M603.32,233.3v1.8M609.67,420v-1.8M609.67,233.3v1.8M614.86,420v-1.8M614.86,233.3v1.8M619.25,420v-1.8M619.25,233.3v1.8M623.05,420v-1.8M623.05,233.3v1.8M626.4,420v-1.8M626.4,233.3v1.8M629.4,420v-3.9M629.4,233.3v3.9M649.13,420v-1.8M649.13,233.3v1.8M660.68,420v-1.8M660.68,233.3v1.8M668.87,420v-1.8M668.87,233.3v1.8M675.22,420v-1.8M675.22,233.3v1.8M680.41,420v-1.8M680.41,233.3v1.8M367.3,403.2h3.9M684.7,403.2h-3.9M367.3,386.2h3.9M684.7,386.2h-3.9M367.3,369.2h3.9M684.7,369.2h-3.9M367.3,352.2h3.9M684.7,352.2h-3.9M367.3,335.2h3.9M684.7,335.2h-3.9M367.3,318.2h3.9M684.7,318.2h-3.9M367.3,301.2h3.9M684.7,301.2h-3.9M367.3,284.2h3.9M684.7,284.2h-3.9M367.3,267.2h3.9M684.7,267.2h-3.9M367.3,250.2h3.9M684.7,250.2h-3.9" stroke="#6a6a6a" stroke-width="0.9" fill="none"/>
<g font-size="7.1" text-anchor="end"><text x="361.7" y="423.1">0.30</text><text x="361.7" y="406.1">0.40</text><text x="361.7" y="389.1">0.50</text><text x="361.7" y="372.1">0.60</text><text x="361.7" y="355.1">0.70</text><text x="361.7" y="338.1">0.80</text><text x="361.7" y="321.1">0.90</text><text x="361.7" y="304.1">1.00</text><text x="361.7" y="287.1">1.10</text><text x="361.7" y="270.1">1.20</text><text x="361.7" y="253.1">1.30</text><text x="361.7" y="236.1">1.40</text></g>
<g font-size="9.2" text-anchor="middle"><text x="367.2" y="433">10<tspan font-size="7" dy="-3.6">-5</tspan></text><text x="432.75" y="433">10<tspan font-size="7" dy="-3.6">-4</tspan></text><text x="498.3" y="433">10<tspan font-size="7" dy="-3.6">-3</tspan></text><text x="563.85" y="433">10<tspan font-size="7" dy="-3.6">-2</tspan></text><text x="629.4" y="433">10<tspan font-size="7" dy="-3.6">-1</tspan></text></g>
<text x="526" y="437.9" font-size="9.4" text-anchor="middle">x</text>
<g font-size="7.7" letter-spacing="-0.1" text-anchor="end"><text x="464.7" y="248.5">MMHT14LO</text><text x="464.7" y="260.1">MSHT20LO</text></g><line x1="469.2" y1="245.4" x2="489.7" y2="245.4" stroke="#e3352b" stroke-width="1.2"/><line x1="469.2" y1="257" x2="489.7" y2="257" stroke="#1fa07a" stroke-width="1.5"/>
<text x="367.5" y="228" font-size="7.6">u<tspan font-size="5.6" dy="1.5">V</tspan><tspan dy="-1.5"> (LO) at Q</tspan><tspan font-size="5.6" dy="-3.7">2</tspan><tspan dy="3.7"> = 10</tspan><tspan font-size="5.6" dy="-3.7">4</tspan><tspan dy="3.7"> GeV</tspan><tspan font-size="5.6" dy="-3.7">2</tspan></text>
</svg>
</body></html>
